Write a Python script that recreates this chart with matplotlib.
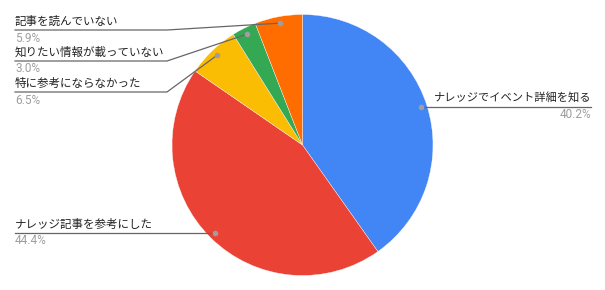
import numpy as np
import matplotlib
matplotlib.use("Agg")
import matplotlib.pyplot as plt

plt.rcParams['font.family'] = ['Noto Sans CJK JP', 'DejaVu Sans']

labels = ["ナレッジでイベント詳細を知る", "ナレッジ記事を参考にした", "特に参考にならなかった",
          "知りたい情報が載っていない", "記事を読んでいない"]
values = [40.2, 44.4, 6.5, 3.0, 5.9]
colors = ["#4285F4", "#EA4335", "#FBBC04", "#34A853", "#FF6D01"]

W, H = 605, 290
fig = plt.figure(figsize=(W / 100, H / 100), dpi=100)
ax = fig.add_axes([0, 0, 1, 1])

cx, cy, R = 302.5, H - 145, 130.5
ax.pie(values, colors=colors, startangle=90, counterclock=False,
       center=(cx, cy), radius=R, frame=True,
       wedgeprops=dict(linewidth=0.25, edgecolor="white"))
ax.set_xlim(0, W)
ax.set_ylim(0, H)
ax.axis("off")

# anchor points at mid-angle of each wedge
total = sum(values)
cum = np.cumsum([0] + values[:-1])
mids = (cum + np.array(values) / 2) / total * 360
ang = np.deg2rad(90 - mids)
px = cx + 0.95 * R * np.cos(ang)
py = cy + 0.95 * R * np.sin(ang)

# label line y (pixels from top), side
line_y = [107, 233, 92, 61, 30]
side = ["right", "left", "left", "left", "left"]
lc = "#666666"
for i, lab in enumerate(labels):
    ly = H - line_y[i]
    pct = f"{values[i]:.1f}%"
    if side[i] == "right":
        ax.plot([px[i], 591], [ly, ly], color=lc, lw=0.9, zorder=3)
        ax.text(591, ly + 9, lab, ha="right", va="center", fontsize=8.1, color="#222222")
        ax.text(591, ly - 8, pct, ha="right", va="center", fontsize=8.5, color="#9E9E9E",
                family=["Roboto", "DejaVu Sans"])
    else:
        if abs(py[i] - ly) < 3:
            ax.plot([15, px[i]], [ly, ly], color=lc, lw=0.9, zorder=3)
        else:
            ax.plot([15, 167, px[i]], [ly, ly, py[i]], color=lc, lw=0.9, zorder=3)
        ax.text(15, ly + 9, lab, ha="left", va="center", fontsize=8.3, color="#222222")
        ax.text(15, ly - 8, pct, ha="left", va="center", fontsize=8.5, color="#9E9E9E",
                family=["Roboto", "DejaVu Sans"])
    ax.plot(px[i], py[i], "o", ms=4, color="#9E9E9E", mec="none", zorder=4)

fig.savefig("out.png", dpi=100)
